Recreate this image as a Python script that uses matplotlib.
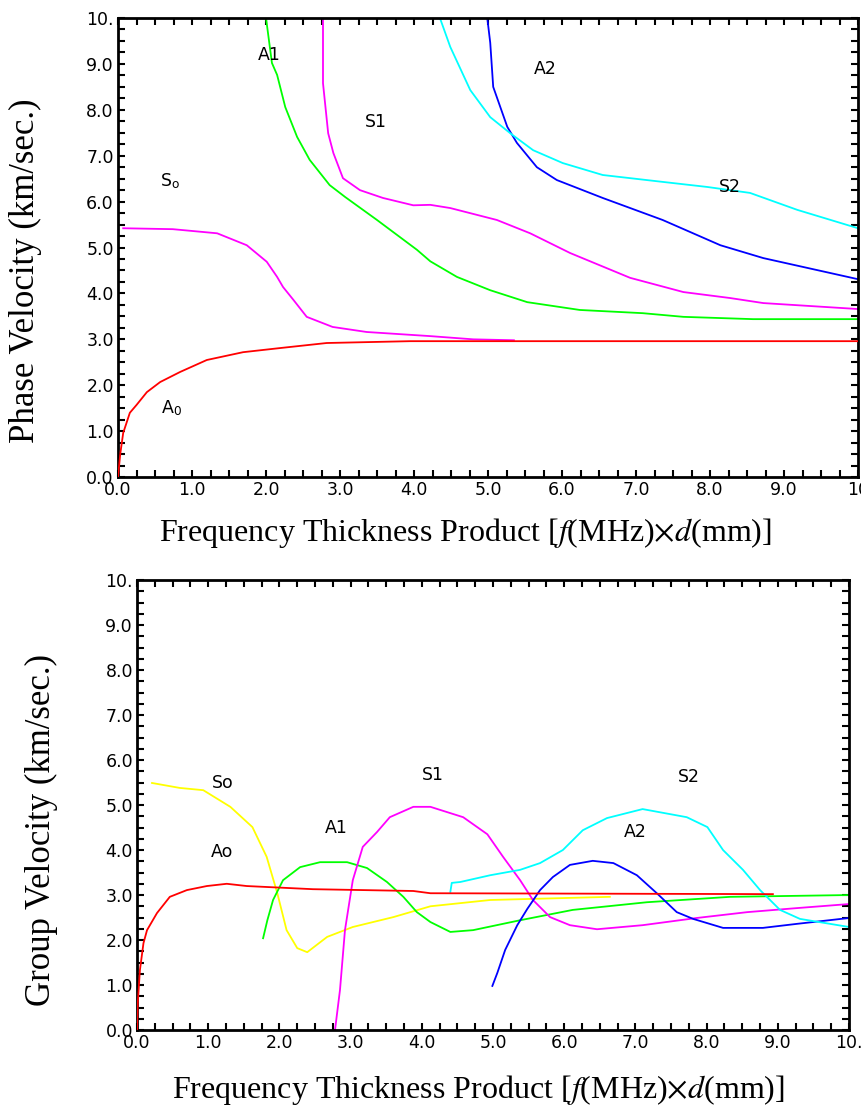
import matplotlib
matplotlib.use("Agg")
import matplotlib.pyplot as plt
from matplotlib.ticker import MultipleLocator

plt.rcParams["mathtext.fontset"] = "stix"

# ---- phase velocity dispersion curves (fd in MHz*mm, velocity in km/s) ----
A0_PH_X = [0.0, 0.03, 0.07, 0.16, 0.25, 0.39, 0.57, 0.84, 1.2, 1.69, 2.19, 2.82, 3.95, 5.0, 7.0, 10.0]
A0_PH_Y = [0.0, 0.5, 0.96, 1.4, 1.57, 1.85, 2.07, 2.29, 2.55, 2.72, 2.81, 2.92, 2.96, 2.96, 2.96, 2.96]

S0_PH_X = [0.07, 0.74, 1.34, 1.74, 2.01, 2.15, 2.23, 2.37, 2.55, 2.9, 3.36, 4.22, 4.8, 5.35]
S0_PH_Y = [5.42, 5.40, 5.31, 5.05, 4.69, 4.36, 4.14, 3.86, 3.49, 3.27, 3.16, 3.07, 3.0, 2.98]

A1_PH_X = [2.0, 2.08, 2.15, 2.26, 2.42, 2.59, 2.86, 3.07, 3.5, 4.04, 4.22, 4.58, 5.03, 5.53, 6.24, 7.09, 7.64, 8.58, 10.0]
A1_PH_Y = [10.0, 9.02, 8.76, 8.06, 7.41, 6.91, 6.36, 6.1, 5.6, 4.95, 4.70, 4.36, 4.07, 3.81, 3.64, 3.57, 3.49, 3.44, 3.44]

S1_PH_X = [2.77, 2.77, 2.84, 2.91, 3.04, 3.27, 3.58, 3.99, 4.22, 4.49, 5.12, 5.57, 6.11, 6.92, 7.64, 8.27, 8.72, 10.0]
S1_PH_Y = [10.0, 8.58, 7.49, 7.06, 6.51, 6.25, 6.08, 5.92, 5.93, 5.86, 5.6, 5.31, 4.88, 4.34, 4.03, 3.9, 3.79, 3.66]

A2_PH_X = [4.99, 5.03, 5.07, 5.26, 5.39, 5.66, 5.93, 6.55, 7.36, 8.14, 8.72, 10.0]
A2_PH_Y = [10.0, 9.46, 8.5, 7.63, 7.28, 6.75, 6.47, 6.08, 5.6, 5.05, 4.77, 4.31]

S2_PH_X = [4.35, 4.49, 4.76, 5.03, 5.3, 5.61, 6.01, 6.55, 7.36, 7.96, 8.54, 9.18, 10.0]
S2_PH_Y = [10.0, 9.37, 8.43, 7.84, 7.49, 7.12, 6.84, 6.58, 6.43, 6.32, 6.19, 5.82, 5.42]

# ---- group velocity dispersion curves ----
A0_GR_X = [0.0, 0.01, 0.04, 0.09, 0.14, 0.28, 0.46, 0.7, 0.98, 1.26, 1.54, 2.47, 3.88, 4.12, 8.93]
A0_GR_Y = [0.0, 0.6, 1.33, 1.93, 2.22, 2.6, 2.96, 3.11, 3.2, 3.25, 3.2, 3.13, 3.09, 3.04, 3.02]

S0_GR_X = [0.21, 0.6, 0.93, 1.31, 1.62, 1.82, 1.97, 2.1, 2.25, 2.39, 2.67, 3.03, 3.6, 4.12, 4.96, 6.64]
S0_GR_Y = [5.49, 5.38, 5.33, 4.96, 4.51, 3.85, 3.04, 2.22, 1.82, 1.73, 2.07, 2.29, 2.51, 2.75, 2.89, 2.96]

A1_GR_X = [1.77, 1.83, 1.91, 2.05, 2.29, 2.57, 2.95, 3.23, 3.51, 3.74, 3.93, 4.12, 4.4, 4.72, 5.38, 6.12, 7.16, 8.33, 10.0]
A1_GR_Y = [2.04, 2.44, 2.89, 3.33, 3.62, 3.73, 3.73, 3.6, 3.29, 2.96, 2.62, 2.4, 2.18, 2.22, 2.44, 2.67, 2.84, 2.96, 3.0]

S1_GR_X = [2.78, 2.85, 2.92, 3.03, 3.17, 3.37, 3.55, 3.88, 4.12, 4.58, 4.92, 5.14, 5.38, 5.56, 5.8, 6.08, 6.46, 7.1, 7.86, 8.57, 9.27, 10.0]
S1_GR_Y = [0.0, 0.89, 2.22, 3.33, 4.07, 4.4, 4.73, 4.96, 4.96, 4.73, 4.35, 3.85, 3.33, 2.89, 2.51, 2.33, 2.24, 2.33, 2.49, 2.62, 2.71, 2.8]

A2_GR_X = [4.99, 5.06, 5.17, 5.34, 5.48, 5.66, 5.84, 6.08, 6.4, 6.69, 7.02, 7.3, 7.58, 7.81, 8.23, 8.79, 9.27, 10.0]
A2_GR_Y = [0.98, 1.27, 1.78, 2.33, 2.69, 3.11, 3.4, 3.67, 3.76, 3.71, 3.44, 3.04, 2.62, 2.47, 2.27, 2.27, 2.36, 2.49]

S2_GR_X = [4.4, 4.42, 4.54, 4.96, 5.38, 5.66, 5.98, 6.26, 6.6, 7.1, 7.72, 8.01, 8.23, 8.51, 8.75, 9.03, 9.31, 10.0]
S2_GR_Y = [3.07, 3.27, 3.29, 3.44, 3.56, 3.71, 4.0, 4.44, 4.71, 4.91, 4.73, 4.51, 4.0, 3.56, 3.11, 2.67, 2.47, 2.29]

TICK_VALS = [0, 1, 2, 3, 4, 5, 6, 7, 8, 9, 10]
TICK_TEXT = ["0.0", "1.0", "2.0", "3.0", "4.0", "5.0", "6.0", "7.0", "8.0", "9.0", "10."]

RED, MAG, GRN, CYN, BLU, YEL = "#ff0000", "#ff00ff", "#00ff00", "#00ffff", "#0000ff", "#ffff00"

SERIF = ["Liberation Serif", "DejaVu Serif"]
TICKFONT = dict(family="DejaVu Sans", size=12.5)
LW = 1.3
XLABEL = r"Frequency Thickness Product [$\mathit{f}$(MHz)$\times$$\mathit{d}$(mm)]"

fig = plt.figure(figsize=(8.62, 11.12), dpi=100)


def style_axes(ax, ylabel, xticktext, xlab_xy, ylab_xy):
    ax.set_xlim(0, 10)
    ax.set_ylim(0, 10)
    ax.set_xticks(TICK_VALS)
    ax.set_yticks(TICK_VALS)
    ax.set_xticklabels(xticktext, **TICKFONT)
    ax.set_yticklabels(TICK_TEXT, **TICKFONT)
    ax.xaxis.set_minor_locator(MultipleLocator(0.25))
    ax.yaxis.set_minor_locator(MultipleLocator(0.25))
    ax.tick_params(which="both", direction="in", top=True, right=True,
                   length=5, width=1.5, labeltop=False, labelright=False)
    ax.tick_params(axis="both", which="major", pad=3)
    for s in ax.spines.values():
        s.set_linewidth(2.0)
    ax.set_xlabel(XLABEL, family=SERIF, size=23)
    ax.set_ylabel(ylabel, family=SERIF, size=25)
    ax.xaxis.set_label_coords(*xlab_xy)
    ax.yaxis.set_label_coords(*ylab_xy)


# phase velocity
ax1 = fig.add_axes([0.1369, 0.571, 0.8585, 0.4128])
ax1.plot(A0_PH_X, A0_PH_Y, color=RED, lw=LW, zorder=3)
ax1.plot(S0_PH_X, S0_PH_Y, color=MAG, lw=LW)
ax1.plot(A1_PH_X, A1_PH_Y, color=GRN, lw=LW)
ax1.plot(S1_PH_X, S1_PH_Y, color=MAG, lw=LW)
ax1.plot(A2_PH_X, A2_PH_Y, color=BLU, lw=LW)
ax1.plot(S2_PH_X, S2_PH_Y, color=CYN, lw=LW)
lab = dict(family="DejaVu Sans", size=12.5, ha="center", va="center")
ax1.text(2.05, 9.2, "A1", **lab)
ax1.text(3.48, 7.73, "S1", **lab)
ax1.text(5.77, 8.9, "A2", **lab)
ax1.text(8.27, 6.31, "S2", **lab)
ax1.text(0.7, 6.45, r"S$_\mathregular{o}$", **lab)
ax1.text(0.72, 1.5, r"A$_\mathregular{0}$", **lab)
style_axes(ax1, "Phase Velocity (km/sec.)", TICK_TEXT[:-1] + ["10"],
           (0.469, -0.085), (-0.103, 0.45))

# group velocity
ax2 = fig.add_axes([0.159, 0.0737, 0.826, 0.4047])
ax2.plot(S0_GR_X, S0_GR_Y, color=YEL, lw=LW)
ax2.plot(A0_GR_X, A0_GR_Y, color=RED, lw=LW, zorder=3)
ax2.plot(A1_GR_X, A1_GR_Y, color=GRN, lw=LW)
ax2.plot(S1_GR_X, S1_GR_Y, color=MAG, lw=LW)
ax2.plot(A2_GR_X, A2_GR_Y, color=BLU, lw=LW)
ax2.plot(S2_GR_X, S2_GR_Y, color=CYN, lw=LW)
ax2.text(1.2, 5.5, "So", **lab)
ax2.text(1.2, 3.95, "Ao", **lab)
ax2.text(2.8, 4.5, "A1", **lab)
ax2.text(4.15, 5.66, "S1", **lab)
ax2.text(7.0, 4.4, "A2", **lab)
ax2.text(7.75, 5.62, "S2", **lab)
style_axes(ax2, "Group Velocity (km/sec.)", TICK_TEXT,
           (0.479, -0.095), (-0.111, 0.444))

fig.savefig("out.png", dpi=100)
